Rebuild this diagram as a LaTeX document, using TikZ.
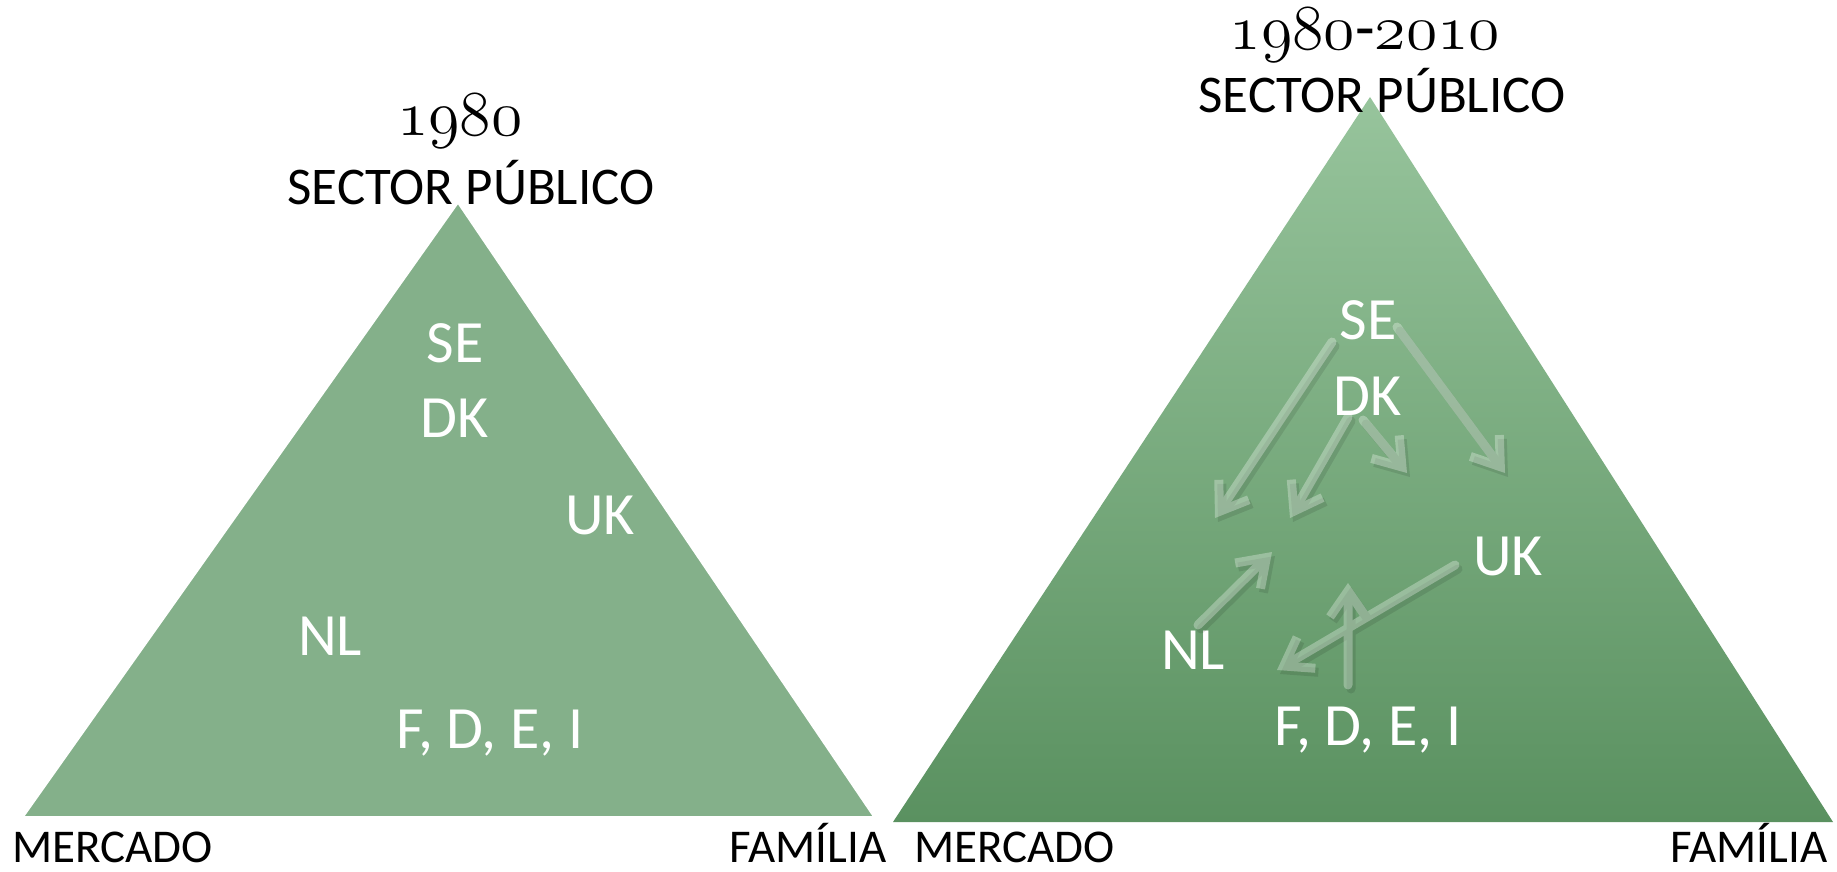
\RequirePackage{fix-cm}
\documentclass[tikz,border=0pt]{standalone}
\usepackage{fontspec}
\setmainfont{Carlito}
\usetikzlibrary{arrows.meta}
\definecolor{leftgreen}{RGB}{132,176,138}
\definecolor{rtop}{RGB}{151,196,156}
\definecolor{rbot}{RGB}{90,145,96}
\tikzset{
  lbl/.style={text=white, font=\fontsize{30}{36}\selectfont, anchor=base, inner sep=0pt},
  head/.style={text=black, font=\fontsize{26.5}{32}\selectfont, anchor=base, inner sep=0pt},
  cornerw/.style={text=black, font=\fontsize{23.5}{28}\selectfont, anchor=base west, inner sep=0pt, text depth=0pt},
  cornere/.style={text=black, font=\fontsize{23.5}{28}\selectfont, anchor=base east, inner sep=0pt, text depth=0pt},
  year/.style={text=black, font=\fontsize{32}{38}\selectfont, inner sep=0pt},
  arr/.style={line width=4.5pt, line cap=round, line join=round, -{Straight Barb[length=13pt,width=18pt]}},
}
\begin{document}
\begin{tikzpicture}[x=0.5pt,y=-0.5pt]
\useasboundingbox[fill=white] (0,0) rectangle (1837,872);
% left triangle
\filldraw[fill=leftgreen, draw=white, line width=3pt] (458,199) -- (19,819) -- (878,819) -- cycle;
% right triangle
\shade[top color=rtop, bottom color=rbot] (1370,97) -- (893,822) -- (1833,822) -- cycle;
% left texts
\node[year] (yl) at (460,121) {$\mathnormal{1980}$};
\node[head] (spl) at (471,205) {SECTOR PÚBLICO};
\node[lbl] (lSE) at (455,362) {SE};
\node[lbl] (lDK) at (455,437) {DK};
\node[lbl] (lUK) at (600,534) {UK};
\node[lbl] (lNL) at (330,655) {NL};
\node[lbl] (lF) at (490,748) {F, D, E, I};
\node[cornerw] (lm) at (12,862) {MERCADO};
\node[cornere] (lf) at (887,862) {FAMÍLIA};
% right texts
\node[year] (yr) at (1365,35) {$\mathnormal{1980}$-$\mathnormal{2010}$};
\node[head] (spr) at (1382,113) {SECTOR PÚBLICO};
\node[lbl] (rSE) at (1368,339) {SE};
\node[lbl] (rDK) at (1368,415) {DK};
\node[lbl] (rUK) at (1508,575) {UK};
\node[lbl] (rNL) at (1193,669) {NL};
\node[lbl] (rF) at (1368,745) {F, D, E, I};
\node[cornerw] (rm) at (914,862) {MERCADO};
\node[cornere] (rf) at (1828,862) {FAMÍLIA};
% arrow end points
\coordinate (a1s) at (1332,342); \coordinate (a1e) at (1215,518);
\coordinate (a2s) at (1348,417); \coordinate (a2e) at (1290,518);
\coordinate (a3s) at (1363,420); \coordinate (a3e) at (1407,473);
\coordinate (a4s) at (1397,327); \coordinate (a4e) at (1505,473);
\coordinate (a5s) at (1198,625); \coordinate (a5e) at (1272,552);
\coordinate (a6s) at (1348,685); \coordinate (a6e) at (1348,583);
\coordinate (a7s) at (1455,565); \coordinate (a7e) at (1277,670);
% arrow shadows
\begin{scope}[transparency group, opacity=0.10, transform canvas={shift={(1.5pt,-2pt)}}]
\draw[arr, black] (a1s) -- (a1e);
\draw[arr, black] (a2s) -- (a2e);
\draw[arr, black] (a3s) -- (a3e);
\draw[arr, black] (a4s) -- (a4e);
\draw[arr, black] (a5s) -- (a5e);
\draw[arr, black] (a7s) -- (a7e);
\draw[arr, black] (a6s) -- (a6e);
\end{scope}
% arrows
\begin{scope}[transparency group, opacity=0.30]
\draw[arr, white] (a1s) -- (a1e);
\draw[arr, white] (a2s) -- (a2e);
\draw[arr, white] (a3s) -- (a3e);
\draw[arr, white] (a4s) -- (a4e);
\draw[arr, white] (a5s) -- (a5e);
\draw[arr, white] (a7s) -- (a7e);
\draw[arr, white] (a6s) -- (a6e);
\end{scope}
\end{tikzpicture}
\end{document}
